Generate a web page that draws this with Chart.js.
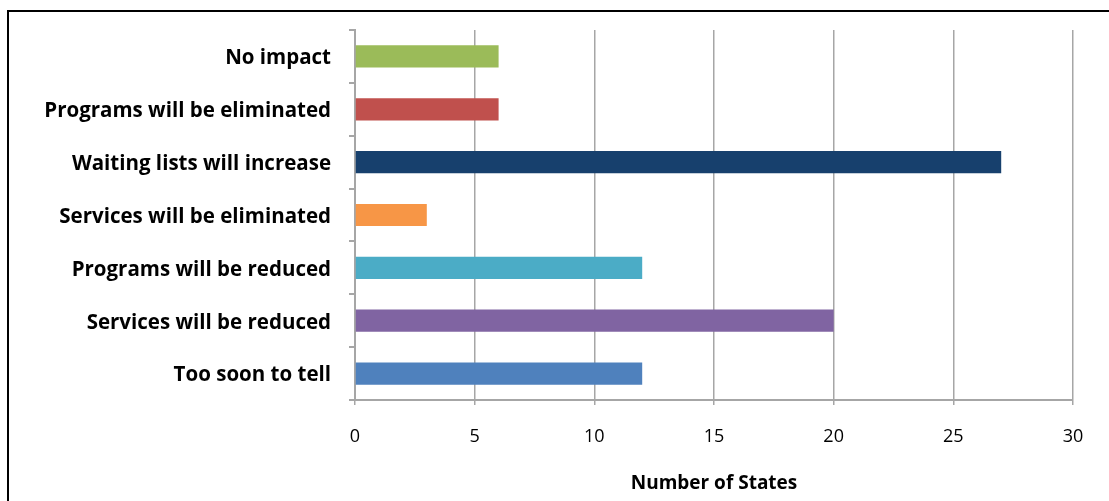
<!DOCTYPE html>
<html>
<head>
<meta charset="utf-8">
<script src="https://cdn.jsdelivr.net/npm/chart.js@4/dist/chart.umd.min.js"></script>
<style>
  html, body { margin: 0; padding: 0; background: #fff; overflow: hidden; }
  #frame { position: absolute; left: 7px; top: 10px; width: 1200px; height: 600px; border: 2px solid #000; }
  #wrap { position: absolute; left: 0; top: 0; width: 1109px; height: 501px; }
</style>
</head>
<body>
<div id="frame"></div>
<div id="wrap"><canvas id="impactChart" width="1109" height="501"></canvas></div>
<script>
/* Impact on states — horizontal bar chart */

const categories = [
  "No impact",
  "Programs will be eliminated",
  "Waiting lists will increase",
  "Services will be eliminated",
  "Programs will be reduced",
  "Services will be reduced",
  "Too soon to tell",
];
const stateCounts = [6, 6, 27, 3, 12, 20, 12];
const barColors = ["#9BBB59", "#C0504D", "#17406D", "#F79646", "#4BACC6", "#8064A2", "#4F81BD"];
const xTicks = [0, 5, 10, 15, 20, 25, 30];
const xTitle = "Number of States";

const GRID = "#a6a6a6";
const FONT = "'Open Sans', Lato, sans-serif";

new Chart(document.getElementById("impactChart"), {
  type: "bar",
  data: {
    labels: categories,
    datasets: [{
      data: stateCounts,
      backgroundColor: barColors,
      borderWidth: 0,
      categoryPercentage: 1,
      barPercentage: 0.42,
    }],
  },
  options: {
    indexAxis: "y",
    responsive: false,
    animation: false,
    layout: { padding: { top: 30, right: 36, bottom: 0, left: 0 } },
    plugins: { legend: { display: false }, tooltip: { enabled: false } },
    scales: {
      x: {
        min: xTicks[0],
        max: xTicks[xTicks.length - 1],
        afterBuildTicks: (s) => { s.ticks = xTicks.map((v) => ({ value: v })); },
        afterFit: (s) => { s.height = 101; },
        border: { color: GRID, width: 2 },
        grid: { color: GRID, lineWidth: 1.5, tickLength: 5 },
        ticks: { color: "#000", padding: 21, font: { family: FONT, size: 18 } },
        title: {
          display: true,
          text: xTitle,
          color: "#000",
          padding: { top: 0, bottom: 6 },
          font: { family: FONT, size: 19, weight: "bold" },
        },
      },
      y: {
        afterFit: (s) => { s.width = 355; },
        border: { color: GRID, width: 2 },
        grid: { drawOnChartArea: false, color: GRID, lineWidth: 2, tickLength: 6 },
        ticks: {
          color: "#000",
          padding: 18,
          labelOffset: 2,
          font: { family: FONT, size: 20.5, weight: "bold", lineHeight: 1.1 },
        },
      },
    },
  },
});
</script>
</body>
</html>
